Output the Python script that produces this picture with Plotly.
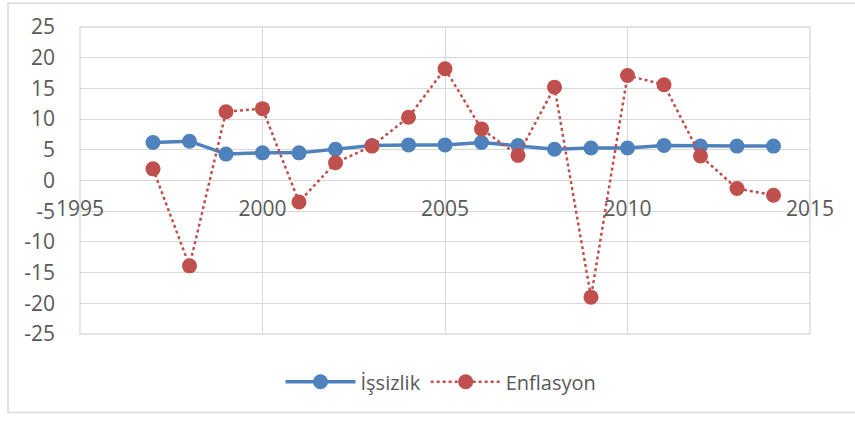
import plotly.graph_objects as go

years = list(range(1997, 2015))
issizlik = [6.2, 6.4, 4.3, 4.5, 4.5, 5.1, 5.7, 5.8, 5.8, 6.2, 5.7, 5.1, 5.3, 5.3, 5.7, 5.6, 5.6, 5.6]
enflasyon = [1.9, -13.9, 11.2, 11.7, -3.5, 2.9, 5.6, 10.3, 18.2, 8.4, 4.1, 15.2, -19.0, 17.1, 15.6, 4.0, -1.3, -2.4]
y_ticks = [-25, -20, -15, -10, -5, 0, 5, 10, 15, 20, 25]
y_labels = [str(v) for v in y_ticks]
x_ticks = [1995, 2000, 2005, 2010, 2015]
x_labels = [str(v) for v in x_ticks]

BLUE = "#4F81BD"
RED = "#C0504D"
GRID = "#D9D9D9"
TXT = "#595959"
FONT = "Open Sans"

W, H = 855, 421
L, R, T, B = 80, 810, 25, 334

def px_x(p):
    return (p - L) / (R - L)

def px_y(p):
    return (B - p) / (B - T)

fig = go.Figure()
fig.add_trace(go.Scatter(
    x=years, y=issizlik, name="İşsizlik", mode="lines+markers",
    line=dict(color=BLUE, width=3.5),
    marker=dict(color=BLUE, size=15),
))
fig.add_trace(go.Scatter(
    x=years, y=enflasyon, name="Enflasyon", mode="lines+markers",
    line=dict(color=RED, width=2.5, dash="dot"),
    marker=dict(color=RED, size=15),
))

fig.update_layout(
    width=W, height=H,
    margin=dict(l=L, r=W - R, t=T, b=H - B),
    plot_bgcolor="white", paper_bgcolor="white",
    font=dict(family=FONT, size=20, color=TXT),
    showlegend=True,
    legend=dict(orientation="h", x=px_x(441), xanchor="center", y=px_y(382), yanchor="middle",
                font=dict(size=20, color=TXT), itemwidth=70, tracegroupgap=0),
    xaxis=dict(range=[1995, 2015], tickvals=x_ticks, ticktext=x_labels, showgrid=True, gridcolor=GRID,
               gridwidth=1.3, zeroline=False, showline=False, anchor="free", position=px_y(179.5),
               ticks="", ticklabelstandoff=13, tickfont=dict(size=21, color=TXT)),
    yaxis=dict(range=[-25, 25], tickvals=y_ticks, ticktext=y_labels, showgrid=True, gridcolor=GRID, gridwidth=1.3,
               zeroline=True, zerolinecolor=GRID, zerolinewidth=1.3, showline=False,
               ticks="", ticklabelstandoff=24, tickfont=dict(size=21, color=TXT)),
    shapes=[
        dict(type="rect", xref="paper", yref="paper", x0=0, x1=1, y0=0, y1=1,
             line=dict(color=GRID, width=1.3), layer="below"),
        dict(type="rect", xref="paper", yref="paper", x0=px_x(8), x1=px_x(870),
             y0=px_y(413), y1=px_y(1), line=dict(color="#D9D9D9", width=1.5), layer="below"),
    ],
)

fig.write_html("out.html", config={"displayModeBar": False},
               post_script="document.body.style.margin='0';document.body.style.overflow='hidden';")
